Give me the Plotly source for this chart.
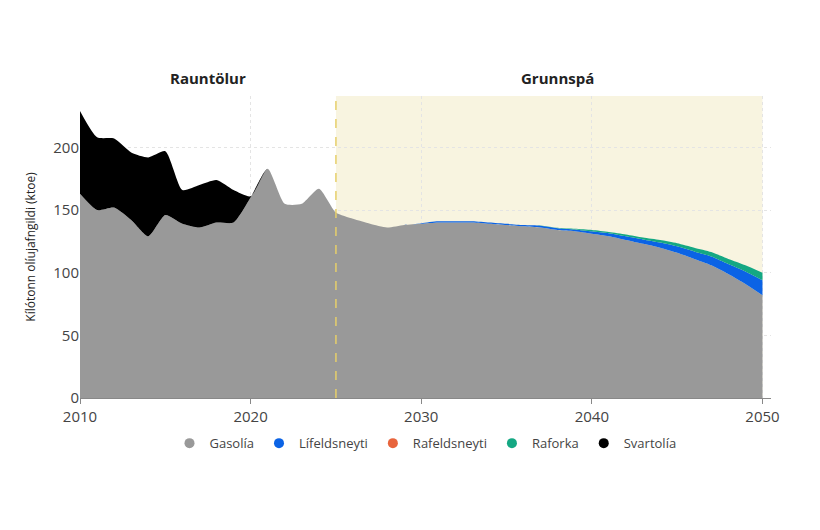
import plotly.graph_objects as go

years = list(range(2010, 2051))
gasolia = [163, 150, 152, 142, 129, 146, 139, 136, 140, 140, 160, 183, 155, 155, 167, 148,
           143, 139, 136, 138, 139, 140, 140, 140, 139, 138, 137, 136, 134, 133, 131, 129,
           126, 123, 120, 116, 111, 106, 99, 91, 82]
lifeldsneyti = [0] * 20 + [0.5, 1, 1, 1, 1, 1, 1, 1.5, 1.5, 1.5, 2, 2.5, 3, 3.5, 4, 5, 6, 7, 8, 10, 12]
rafeldsneyti = [0] * 41
raforka = [0] * 27 + [0.2, 0.3, 0.5, 1, 1, 1.5, 1.5, 2, 2.5, 3, 3.5, 4, 5, 6]
svartolia = [66, 58, 55, 54, 63, 51, 27, 34, 34, 26, 1] + [0] * 30

series = [
    ('Gasolía', gasolia, '#999999'),
    ('Lífeldsneyti', lifeldsneyti, '#0b63e5'),
    ('Rafeldsneyti', rafeldsneyti, '#e8643c'),
    ('Raforka', raforka, '#14a883'),
    ('Svartolía', svartolia, '#000000'),
]

fig = go.Figure()
for name, vals, color in series:
    fig.add_trace(go.Scatter(x=years, y=vals, name=name, stackgroup='one', showlegend=False,
                             mode='lines', line=dict(width=0, color=color, shape='spline', smoothing=0.6),
                             fillcolor=color))
# legend entries with round markers
for name, vals, color in series:
    fig.add_trace(go.Scatter(x=[None], y=[None], name=name, mode='markers',
                             marker=dict(size=10, color=color, symbol='circle')))

fig.add_vrect(x0=2025, x1=2050, fillcolor='#f8f4e0', line_width=0, layer='below')
fig.add_vline(x=2025, line=dict(color='#e6cf6a', width=1.5, dash='dash'))
fig.add_annotation(x=2017.5, y=1.02, yref='paper', text='<b>Rauntölur</b>', showarrow=False,
                   yanchor='bottom', font=dict(size=15, color='#222'))
fig.add_annotation(x=2038, y=1.02, yref='paper', text='<b>Grunnspá</b>', showarrow=False,
                   yanchor='bottom', font=dict(size=15, color='#222'))

fig.update_layout(
    width=820, height=530, plot_bgcolor='white', paper_bgcolor='white',
    font=dict(family='Open Sans, sans-serif', color='#444'),
    margin=dict(l=72, r=57, t=88, b=140),
    legend=dict(orientation='h', x=0.5, xanchor='center', y=-0.1, yanchor='top',
                font=dict(size=13), traceorder='normal', itemwidth=30),
    xaxis=dict(range=[2010, 2050.5], tickvals=[2010, 2020, 2030, 2040, 2050], showgrid=True,
               gridcolor='#e4e4e4', griddash='dot', showline=True, linecolor='#888',
               ticks='outside', tickcolor='#888', tickfont=dict(size=15)),
    yaxis=dict(range=[0, 241], tickvals=[0, 50, 100, 150, 200], showgrid=True, gridcolor='#e4e4e4',
               griddash='dot', zeroline=False, tickfont=dict(size=15),
               title=dict(text='Kílótonn olíujafngildi (ktoe)', font=dict(size=12, color='#222'))),
)
fig.write_html('out.html')
